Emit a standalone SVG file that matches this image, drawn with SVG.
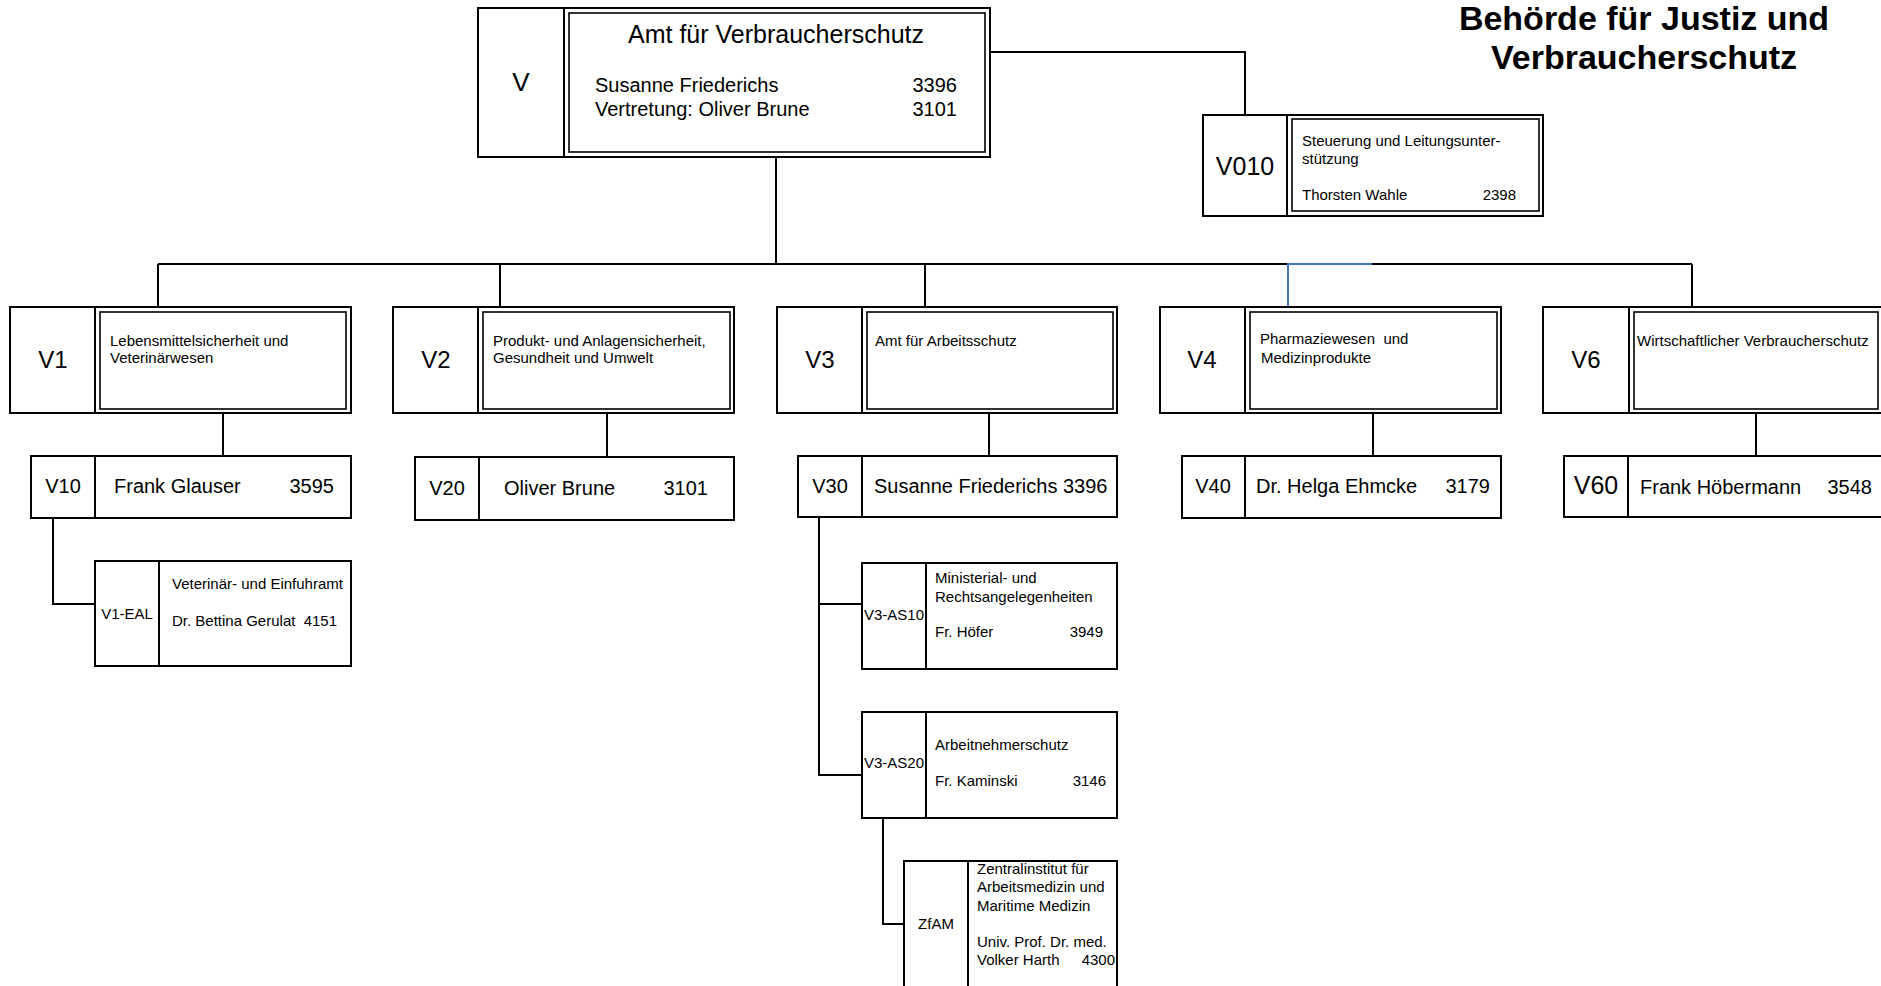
<svg xmlns="http://www.w3.org/2000/svg" width="1881" height="986" viewBox="0 0 1881 986">
<style>
.box{fill:#fff;stroke:#000;stroke-width:2}
.in{fill:none;stroke:#000;stroke-width:1.6}
.ln{fill:none;stroke:#000;stroke-width:2}
.blue{fill:none;stroke:#4472C4;stroke-width:2}
text{font-family:"Liberation Sans",Arial,sans-serif;fill:#000}
.t15{font-size:15px}
.t20{font-size:20px}
.t24{font-size:24px;text-anchor:middle}
.lab20{font-size:20px;text-anchor:middle}
.lab15{font-size:15px;text-anchor:middle}
.end{text-anchor:end}
</style>
<rect width="1881" height="986" fill="#fff"/>

<g id="connectors">
<path class="ln" d="M990,52 H1245 V115"/>
<path class="ln" d="M776,157 V264"/>
<path class="ln" d="M158,264 H1288"/>
<path class="ln" d="M1372,264 H1692"/>
<path class="ln" d="M158,264 V307"/>
<path class="ln" d="M500,264 V307"/>
<path class="ln" d="M925,264 V307"/>
<path class="ln" d="M1692,264 V307"/>
<path class="blue" d="M1288,307 V264 H1372"/>
<path class="ln" d="M223,413 V456"/>
<path class="ln" d="M53,518 V604 H95"/>
<path class="ln" d="M607,413 V457"/>
<path class="ln" d="M989,413 V456"/>
<path class="ln" d="M819,517 V775 H862"/>
<path class="ln" d="M819,604 H862"/>
<path class="ln" d="M883,818 V924 H904"/>
<path class="ln" d="M1373,413 V456"/>
<path class="ln" d="M1756,413 V456"/>
</g>

<g id="title">
<text x="1644" y="30" style="font-size:34px;font-weight:bold;text-anchor:middle">Behörde für Justiz und</text>
<text x="1644" y="69" style="font-size:34px;font-weight:bold;text-anchor:middle">Verbraucherschutz</text>
</g>

<g id="node-V">
<rect class="box" x="478" y="8" width="512" height="149"/>
<line class="ln" x1="564" y1="8" x2="564" y2="157"/>
<rect class="in" x="569" y="13" width="416" height="139"/>
<text x="521" y="91" style="font-size:26px;text-anchor:middle">V</text>
<text x="776" y="43" style="font-size:25px;text-anchor:middle">Amt für Verbraucherschutz</text>
<text class="t20" x="595" y="92">Susanne Friederichs</text>
<text class="t20 end" x="957" y="92">3396</text>
<text class="t20" x="595" y="116">Vertretung: Oliver Brune</text>
<text class="t20 end" x="957" y="116">3101</text>
</g>

<g id="node-V010">
<rect class="box" x="1203" y="115" width="340" height="101"/>
<line class="ln" x1="1287" y1="115" x2="1287" y2="216"/>
<rect class="in" x="1292" y="119" width="247" height="92"/>
<text x="1245" y="175" style="font-size:25px;text-anchor:middle">V010</text>
<text class="t15" x="1302" y="146">Steuerung und Leitungsunter-</text>
<text class="t15" x="1302" y="164">stützung</text>
<text class="t15" x="1302" y="200">Thorsten Wahle</text>
<text class="t15 end" x="1516" y="200">2398</text>
</g>

<g id="node-V1">
<rect class="box" x="10" y="307" width="341" height="106"/>
<line class="ln" x1="95" y1="307" x2="95" y2="413"/>
<rect class="in" x="100" y="312" width="246" height="97"/>
<text class="t24" x="53" y="368">V1</text>
<text class="t15" x="110" y="346">Lebensmittelsicherheit und</text>
<text class="t15" x="110" y="363">Veterinärwesen</text>
</g>

<g id="node-V2">
<rect class="box" x="393" y="307" width="341" height="106"/>
<line class="ln" x1="478" y1="307" x2="478" y2="413"/>
<rect class="in" x="483" y="312" width="247" height="97"/>
<text class="t24" x="436" y="368">V2</text>
<text class="t15" x="493" y="346">Produkt- und Anlagensicherheit,</text>
<text class="t15" x="493" y="363">Gesundheit und Umwelt</text>
</g>

<g id="node-V3">
<rect class="box" x="777" y="307" width="340" height="106"/>
<line class="ln" x1="862" y1="307" x2="862" y2="413"/>
<rect class="in" x="867" y="312" width="246" height="97"/>
<text class="t24" x="820" y="368">V3</text>
<text class="t15" x="875" y="346">Amt für Arbeitsschutz</text>
</g>

<g id="node-V4">
<rect class="box" x="1160" y="307" width="341" height="106"/>
<line class="ln" x1="1245" y1="307" x2="1245" y2="413"/>
<rect class="in" x="1250" y="312" width="247" height="97"/>
<text class="t24" x="1202" y="368">V4</text>
<text class="t15" x="1260" y="344">Pharmaziewesen&#160; und</text>
<text class="t15" x="1261" y="363">Medizinprodukte</text>
</g>

<g id="node-V6">
<rect class="box" x="1543" y="307" width="340" height="106"/>
<line class="ln" x1="1629" y1="307" x2="1629" y2="413"/>
<rect class="in" x="1634" y="312" width="244" height="97"/>
<text class="t24" x="1586" y="368">V6</text>
<text class="t15" x="1637" y="346">Wirtschaftlicher Verbraucherschutz</text>
</g>

<g id="node-V10">
<rect class="box" x="31" y="456" width="320" height="62"/>
<line class="ln" x1="95" y1="456" x2="95" y2="518"/>
<text class="lab20" x="63" y="493">V10</text>
<text class="t20" x="114" y="493">Frank Glauser</text>
<text class="t20 end" x="334" y="493">3595</text>
</g>

<g id="node-V1-EAL">
<rect class="box" x="95" y="561" width="256" height="105"/>
<line class="ln" x1="159" y1="561" x2="159" y2="666"/>
<text class="lab15" x="127" y="619">V1-EAL</text>
<text class="t15" x="172" y="589">Veterinär- und Einfuhramt</text>
<text class="t15" x="172" y="626">Dr. Bettina Gerulat</text>
<text class="t15 end" x="337" y="626">4151</text>
</g>

<g id="node-V20">
<rect class="box" x="415" y="457" width="319" height="63"/>
<line class="ln" x1="479" y1="457" x2="479" y2="520"/>
<text class="lab20" x="447" y="495">V20</text>
<text class="t20" x="504" y="495">Oliver Brune</text>
<text class="t20 end" x="708" y="495">3101</text>
</g>

<g id="node-V30">
<rect class="box" x="798" y="456" width="319" height="61"/>
<line class="ln" x1="862" y1="456" x2="862" y2="517"/>
<text class="lab20" x="830" y="493">V30</text>
<text class="t20" x="874" y="493">Susanne Friederichs 3396</text>
</g>

<g id="node-V3-AS10">
<rect class="box" x="862" y="563" width="255" height="106"/>
<line class="ln" x1="926" y1="563" x2="926" y2="669"/>
<text class="lab15" x="894" y="620">V3-AS10</text>
<text class="t15" x="935" y="583">Ministerial- und</text>
<text class="t15" x="935" y="602">Rechtsangelegenheiten</text>
<text class="t15" x="935" y="637">Fr. Höfer</text>
<text class="t15 end" x="1103" y="637">3949</text>
</g>

<g id="node-V3-AS20">
<rect class="box" x="862" y="712" width="255" height="106"/>
<line class="ln" x1="926" y1="712" x2="926" y2="818"/>
<text class="lab15" x="894" y="768">V3-AS20</text>
<text class="t15" x="935" y="750">Arbeitnehmerschutz</text>
<text class="t15" x="935" y="786">Fr. Kaminski</text>
<text class="t15 end" x="1106" y="786">3146</text>
</g>

<g id="node-ZfAM">
<rect class="box" x="904" y="861" width="213" height="140"/>
<line class="ln" x1="968" y1="861" x2="968" y2="1001"/>
<text class="lab15" x="936" y="929">ZfAM</text>
<text class="t15" x="977" y="874">Zentralinstitut für</text>
<text class="t15" x="977" y="892">Arbeitsmedizin und</text>
<text class="t15" x="977" y="911">Maritime Medizin</text>
<text class="t15" x="977" y="947">Univ. Prof. Dr. med.</text>
<text class="t15" x="977" y="965">Volker Harth</text>
<text class="t15 end" x="1115" y="965">4300</text>
</g>

<g id="node-V40">
<rect class="box" x="1182" y="456" width="319" height="62"/>
<line class="ln" x1="1245" y1="456" x2="1245" y2="518"/>
<text class="lab20" x="1213" y="493">V40</text>
<text class="t20" x="1256" y="493">Dr. Helga Ehmcke</text>
<text class="t20 end" x="1490" y="493">3179</text>
</g>

<g id="node-V60">
<rect class="box" x="1564" y="456" width="320" height="61"/>
<line class="ln" x1="1628" y1="456" x2="1628" y2="517"/>
<text x="1596" y="494" style="font-size:25px;text-anchor:middle">V60</text>
<text class="t20" x="1640" y="494">Frank Höbermann</text>
<text class="t20 end" x="1872" y="494">3548</text>
</g>
</svg>
